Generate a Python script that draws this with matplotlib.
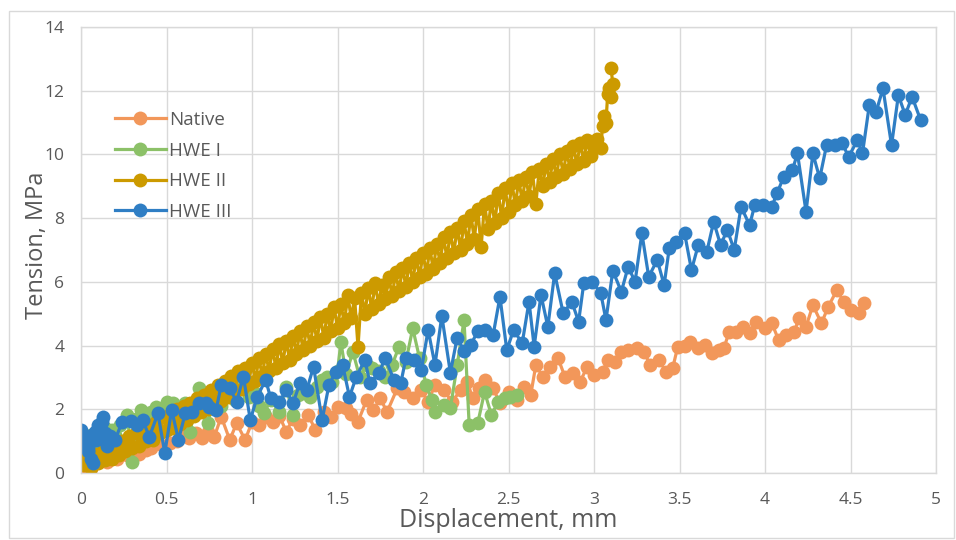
import matplotlib
matplotlib.use("Agg")
import matplotlib.pyplot as plt
from matplotlib.patches import Rectangle

plt.rcParams['font.family'] = ['Open Sans', 'DejaVu Sans']

series_names = ["Native", "HWE I", "HWE II", "HWE III"]

native_x = [0.00, 0.03, 0.06, 0.09, 0.12, 0.15, 0.18, 0.21, 0.24, 0.27, 0.30, 0.34, 0.38, 0.41, 0.44,
            0.48, 0.52, 0.56, 0.59, 0.63, 0.67, 0.71, 0.74, 0.78, 0.82, 0.87, 0.91, 0.96, 1.00, 1.04,
            1.08, 1.12, 1.16, 1.20, 1.24, 1.28, 1.33, 1.37, 1.42, 1.46, 1.50, 1.55, 1.58, 1.62, 1.67,
            1.71, 1.75, 1.79, 1.85, 1.89, 1.94, 1.99, 2.03, 2.07, 2.12, 2.17, 2.22, 2.26, 2.29, 2.33,
            2.36, 2.41, 2.45, 2.50, 2.55, 2.59, 2.63, 2.66, 2.70, 2.74, 2.79, 2.83, 2.88, 2.92, 2.96,
            3.00, 3.05, 3.08, 3.12, 3.16, 3.20, 3.25, 3.29, 3.33, 3.38, 3.42, 3.46, 3.49, 3.53, 3.56,
            3.61, 3.65, 3.69, 3.73, 3.76, 3.79, 3.83, 3.87, 3.91, 3.95, 4.00, 4.04, 4.08, 4.12, 4.17,
            4.20, 4.24, 4.28, 4.33, 4.37, 4.42, 4.46, 4.50, 4.55, 4.58]
native_y = [0.15, 0.25, 0.15, 0.30, 0.40, 0.35, 0.50, 0.45, 0.60, 0.55, 0.65, 0.60, 0.72, 0.80, 0.98,
            0.85, 0.93, 1.00, 1.20, 1.09, 1.25, 1.09, 1.30, 1.14, 1.77, 1.04, 1.56, 1.04, 1.60, 1.51,
            1.75, 1.61, 1.80, 1.30, 1.70, 1.51, 1.82, 1.35, 1.90, 1.77, 2.08, 2.03, 1.85, 1.61, 2.29,
            1.98, 2.34, 1.92, 2.66, 2.55, 2.34, 2.60, 2.24, 2.76, 2.60, 2.24, 2.60, 2.87, 2.34, 2.66,
            2.92, 2.66, 2.19, 2.55, 2.29, 2.71, 2.45, 3.39, 3.02, 3.34, 3.60, 3.02, 3.13, 2.87, 3.34,
            3.08, 3.18, 3.55, 3.49, 3.81, 3.86, 3.92, 3.81, 3.39, 3.55, 3.18, 3.29, 3.97, 4.00, 4.12,
            3.92, 4.02, 3.76, 3.86, 3.92, 4.43, 4.43, 4.59, 4.38, 4.75, 4.54, 4.70, 4.17, 4.33, 4.43,
            4.86, 4.59, 5.27, 4.70, 5.22, 5.74, 5.38, 5.12, 5.01, 5.33]

hwe1_x = [0.00, 0.02, 0.04, 0.06, 0.08, 0.10, 0.12, 0.14, 0.16, 0.18, 0.20, 0.23, 0.27, 0.30, 0.32,
          0.35, 0.38, 0.41, 0.44, 0.47, 0.50, 0.54, 0.57, 0.61, 0.64, 0.66, 0.69, 0.74, 0.78, 0.82,
          0.86, 0.90, 0.94, 0.98, 1.02, 1.04, 1.07, 1.11, 1.16, 1.20, 1.24, 1.27, 1.30, 1.34, 1.38,
          1.41, 1.44, 1.47, 1.50, 1.52, 1.55, 1.59, 1.63, 1.67, 1.70, 1.74, 1.78, 1.82, 1.86, 1.90,
          1.94, 1.98, 2.02, 2.05, 2.07, 2.12, 2.16, 2.20, 2.24, 2.27, 2.32, 2.36, 2.40, 2.44, 2.48,
          2.51, 2.55]
hwe1_y = [0.88, 1.10, 0.70, 1.20, 0.90, 1.30, 1.00, 1.40, 1.15, 1.35, 1.20, 1.50, 1.82, 0.35, 1.70,
          1.98, 1.60, 1.90, 2.08, 1.75, 2.24, 2.19, 1.90, 2.19, 1.30, 2.00, 2.66, 1.56, 2.30, 2.10,
          2.60, 2.30, 2.70, 2.40, 2.50, 2.10, 1.87, 2.30, 1.92, 2.71, 1.82, 2.45, 2.50, 2.40, 2.70,
          2.92, 3.00, 2.85, 3.20, 4.10, 3.10, 3.81, 3.00, 3.40, 3.29, 3.20, 3.00, 3.40, 3.97, 3.50,
          4.54, 3.60, 2.76, 2.30, 1.92, 2.13, 2.03, 3.39, 4.80, 1.51, 1.56, 2.55, 1.82, 2.24, 2.34,
          2.39, 2.45]

hwe2_x = [0.00, 0.02, 0.04, 0.06, 0.08, 0.10, 0.12, 0.14, 0.16, 0.18,
          0.20, 0.22, 0.24, 0.26, 0.28, 0.30, 0.32, 0.34, 0.36, 0.38,
          0.40, 0.42, 0.44, 0.46, 0.48, 0.50, 0.52, 0.54, 0.56, 0.58,
          0.60, 0.62, 0.64, 0.66, 0.68, 0.70, 0.72, 0.74, 0.76, 0.78,
          0.80, 0.82, 0.84, 0.86, 0.88, 0.90, 0.92, 0.94, 0.96, 0.98,
          1.00, 1.02, 1.04, 1.06, 1.08, 1.10, 1.12, 1.14, 1.16, 1.18,
          1.20, 1.22, 1.24, 1.26, 1.28, 1.30, 1.32, 1.34, 1.36, 1.38,
          1.40, 1.42, 1.44, 1.46, 1.48, 1.50, 1.52, 1.54, 1.56, 1.58,
          1.60, 1.62, 1.64, 1.66, 1.68, 1.70, 1.72, 1.74, 1.76, 1.78,
          1.80, 1.82, 1.84, 1.86, 1.88, 1.90, 1.92, 1.94, 1.96, 1.98,
          2.00, 2.02, 2.04, 2.06, 2.08, 2.10, 2.12, 2.14, 2.16, 2.18,
          2.20, 2.22, 2.24, 2.26, 2.28, 2.30, 2.32, 2.34, 2.36, 2.38,
          2.40, 2.42, 2.44, 2.46, 2.48, 2.50, 2.52, 2.54, 2.56, 2.58,
          2.60, 2.62, 2.64, 2.66, 2.68, 2.70, 2.72, 2.74, 2.76, 2.78,
          2.80, 2.82, 2.84, 2.86, 2.88, 2.90, 2.92, 2.94, 2.96, 2.98,
          3.00, 3.02, 3.04, 3.05, 3.06, 3.07, 3.08, 3.09, 3.10, 3.11, 3.10]
hwe2_y = [0.40, 0.25, 0.50, 0.15, 0.60, 0.30, 0.65, 0.40, 0.75, 0.45,
          0.90, 0.55, 1.00, 0.70, 1.15, 0.80, 1.25, 0.85, 1.40, 1.00,
          1.50, 1.05, 1.60, 1.25, 1.75, 1.35, 1.85, 1.40, 2.00, 1.55,
          2.10, 1.65, 2.20, 1.80, 2.35, 1.90, 2.45, 2.00, 2.60, 2.15,
          2.75, 2.25, 2.90, 2.40, 3.05, 2.55, 3.20, 2.65, 3.30, 2.80,
          3.45, 2.90, 3.60, 3.05, 3.75, 3.20, 3.90, 3.30, 4.05, 3.45,
          4.15, 3.55, 4.30, 3.75, 4.45, 3.85, 4.60, 4.00, 4.75, 4.15,
          4.90, 4.25, 5.00, 4.45, 5.20, 4.55, 5.30, 4.70, 5.60, 4.85,
          5.50, 3.95, 5.65, 5.00, 5.80, 5.15, 5.95, 5.30, 5.90, 5.45,
          6.15, 5.55, 6.30, 5.70, 6.45, 5.85, 6.60, 6.00, 6.75, 6.15,
          6.90, 6.25, 7.05, 6.40, 7.20, 6.60, 7.40, 6.75, 7.55, 6.90,
          7.70, 7.00, 7.90, 7.20, 8.10, 7.35, 8.30, 7.10, 8.45, 7.65,
          8.55, 7.85, 8.80, 8.00, 8.95, 8.20, 9.10, 8.40, 9.20, 8.55,
          9.30, 8.70, 9.45, 8.45, 9.55, 9.00, 9.70, 9.15, 9.85, 9.30,
          10.00, 9.40, 10.10, 9.55, 10.25, 9.70, 10.35, 9.80, 10.45, 9.95,
          10.30, 10.50, 10.20, 10.90, 11.20, 11.00, 11.90, 12.10, 11.80, 12.20, 12.70]

hwe3_x = [0.00, 0.01, 0.02, 0.03, 0.04, 0.05, 0.06, 0.07, 0.08, 0.09, 0.10, 0.11, 0.12, 0.13, 0.14,
          0.15, 0.17, 0.20, 0.24, 0.29, 0.33, 0.36, 0.40, 0.45, 0.49, 0.53, 0.57, 0.61, 0.65, 0.69,
          0.73, 0.75, 0.79, 0.82, 0.87, 0.91, 0.95, 0.99, 1.03, 1.08, 1.11, 1.16, 1.20, 1.24, 1.28,
          1.32, 1.36, 1.41, 1.45, 1.49, 1.53, 1.57, 1.61, 1.66, 1.69, 1.74, 1.78, 1.83, 1.87, 1.90,
          1.95, 1.99, 2.03, 2.07, 2.11, 2.16, 2.20, 2.24, 2.28, 2.32, 2.36, 2.41, 2.45, 2.49, 2.53,
          2.58, 2.62, 2.65, 2.69, 2.73, 2.77, 2.82, 2.87, 2.91, 2.94, 2.99, 3.04, 3.07, 3.11, 3.16,
          3.20, 3.24, 3.28, 3.32, 3.37, 3.41, 3.44, 3.48, 3.53, 3.57, 3.61, 3.66, 3.70, 3.74, 3.78,
          3.82, 3.86, 3.91, 3.94, 3.99, 4.04, 4.07, 4.11, 4.16, 4.19, 4.24, 4.28, 4.32, 4.36, 4.41,
          4.45, 4.49, 4.54, 4.57, 4.61, 4.65, 4.69, 4.74, 4.78, 4.82, 4.86, 4.91]
hwe3_y = [1.35, 1.20, 0.95, 1.05, 0.70, 1.15, 0.45, 0.30, 1.30, 1.05, 1.50, 1.20, 1.60, 1.75, 1.25,
          0.85, 1.15, 1.05, 1.60, 1.62, 1.50, 1.66, 1.14, 1.87, 0.63, 1.98, 1.04, 1.88, 1.92, 2.19,
          2.19, 2.08, 1.98, 2.76, 2.66, 2.24, 3.02, 1.66, 2.39, 2.92, 2.34, 2.24, 2.60, 2.19, 2.82,
          2.60, 3.34, 1.66, 2.76, 3.18, 3.39, 2.39, 3.02, 3.55, 2.82, 3.13, 3.60, 2.92, 2.82, 3.60,
          3.55, 3.23, 4.49, 3.39, 4.93, 3.15, 4.25, 3.84, 4.02, 4.46, 4.49, 4.33, 5.53, 3.86, 4.49,
          4.07, 5.38, 3.97, 5.59, 4.59, 6.27, 5.01, 5.38, 4.75, 5.95, 6.00, 5.64, 4.80, 6.35, 5.69,
          6.48, 6.00, 7.52, 6.16, 6.69, 5.90, 7.05, 7.26, 7.52, 6.37, 7.16, 6.95, 7.89, 7.16, 7.63,
          7.00, 8.36, 7.78, 8.41, 8.41, 8.36, 8.78, 9.30, 9.51, 10.03, 8.20, 10.03, 9.25, 10.29, 10.29,
          10.35, 9.93, 10.45, 10.03, 11.55, 11.34, 12.07, 10.29, 11.86, 11.24, 11.81, 11.08]

x_ticks = [0, 0.5, 1, 1.5, 2, 2.5, 3, 3.5, 4, 4.5, 5]
x_tick_labels = ["0", "0.5", "1", "1.5", "2", "2.5", "3", "3.5", "4", "4.5", "5"]
y_ticks = [0, 2, 4, 6, 8, 10, 12, 14]
y_tick_labels = ["0", "2", "4", "6", "8", "10", "12", "14"]

colors = ["#F2975A", "#8CC168", "#CC9A00", "#2F7EC4"]

fig = plt.figure(figsize=(9.56, 5.40), dpi=100)
fig.patches.append(Rectangle((9 / 956, 2 / 540), 945 / 956, 527 / 540, transform=fig.transFigure,
                             fill=False, edgecolor="#D9D9D9", linewidth=1.0))
ax = fig.add_axes([81 / 956, 67 / 540, 855 / 956, 446 / 540])

data = [(native_x, native_y), (hwe1_x, hwe1_y), (hwe2_x, hwe2_y), (hwe3_x, hwe3_y)]
for (xs, ys), name, c in zip(data, series_names, colors):
    ax.plot(xs, ys, color=c, linewidth=2.3, marker='o', markersize=10,
            markeredgewidth=0, label=name)

ax.set_xlim(0, 5)
ax.set_ylim(0, 14)
ax.set_xticks(x_ticks)
ax.set_xticklabels(x_tick_labels)
ax.set_yticks(y_ticks)
ax.set_yticklabels(y_tick_labels)
ax.grid(True, color="#D9D9D9", linewidth=1.0)
ax.set_axisbelow(True)
for s in ax.spines.values():
    s.set_color("#D9D9D9")
    s.set_linewidth(1.0)
ax.tick_params(length=0, labelsize=12.5, labelcolor="#595959")
ax.tick_params(axis='x', pad=14)
ax.tick_params(axis='y', pad=12)

ax.set_xlabel("Displacement, mm", fontsize=18, color="#595959", labelpad=0)
ax.set_ylabel("Tension, MPa", fontsize=17, color="#595959")
ax.yaxis.set_label_coords(-0.038, 0.51)

leg = ax.legend(loc='upper left', bbox_to_anchor=(0.020, 0.85), frameon=False, fontsize=13.5,
                handlelength=2.7, labelspacing=0.68, handletextpad=0.2, labelcolor="#595959")

fig.savefig("out.png", dpi=100)
